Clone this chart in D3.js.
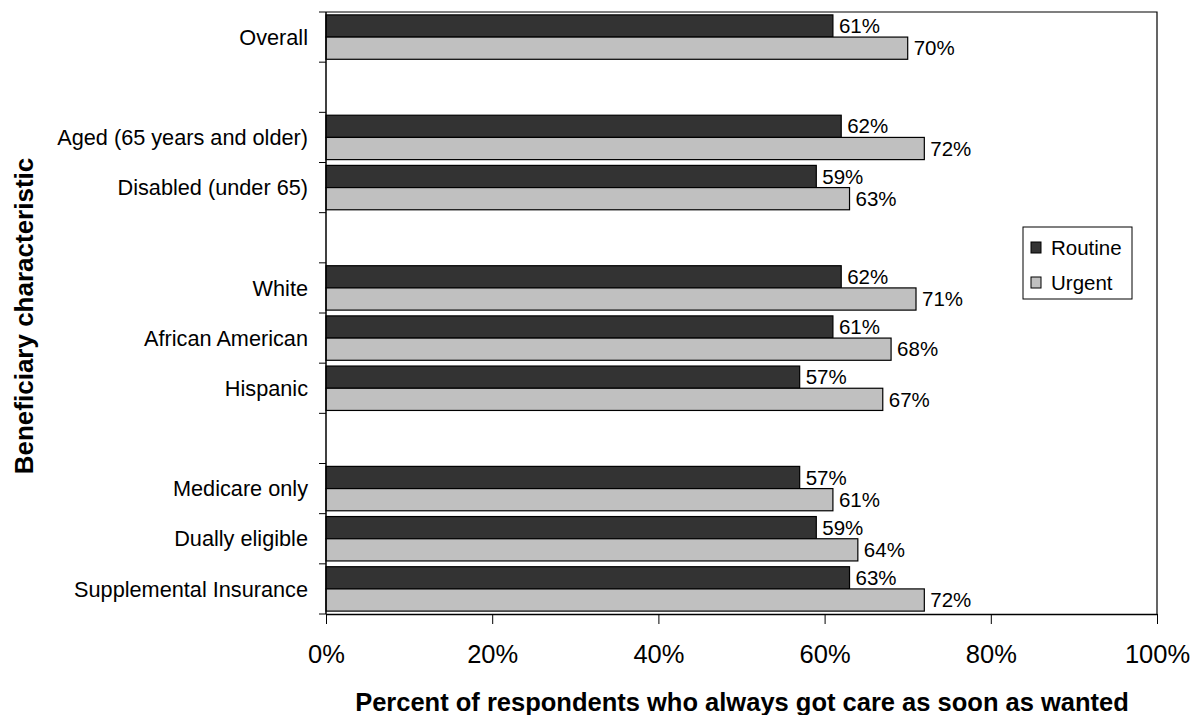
<!DOCTYPE html>
<html>
<head>
<meta charset="utf-8">
<script src="https://cdn.jsdelivr.net/npm/d3@7"></script>
<style>
  body { margin: 0; background: #fff; }
  svg { font-family: Arial, "Liberation Sans", sans-serif; }
</style>
</head>
<body>
<div id="chart"></div>
<script>
// Category slots, top to bottom ("" = spacer slot)
const categories = [
  "Overall", "",
  "Aged (65 years and older)", "Disabled (under 65)", "",
  "White", "African American", "Hispanic", "",
  "Medicare only", "Dually eligible", "Supplemental Insurance"
];
const routine = [61, null, 62, 59, null, 62, 61, 57, null, 57, 59, 63];
const urgent  = [70, null, 72, 63, null, 71, 68, 67, null, 61, 64, 72];
const seriesNames = ["Routine", "Urgent"];
const seriesColors = ["#333333", "#c0c0c0"];
const xTicks = [0, 20, 40, 60, 80, 100];

const width = 1195, height = 715;
const plot = { left: 326, right: 1157, top: 12, bottom: 614 };

const svg = d3.select("#chart").append("svg")
  .attr("width", width)
  .attr("height", height);

// Scales
const x = d3.scaleLinear().domain([0, 100]).range([plot.left, plot.right]);
const y = d3.scaleBand()
  .domain(categories.map((d, i) => i))
  .range([plot.top, plot.bottom])
  .paddingInner(0).paddingOuter(0);
const ySub = d3.scaleBand()
  .domain(seriesNames)
  .range([0, y.bandwidth()])
  .paddingOuter(0.13).paddingInner(0);

// Build rows from arrays
const rows = categories.map((c, i) => ({ i, cat: c, values: [routine[i], urgent[i]] }));

// Bars
const groups = svg.append("g").selectAll("g.row")
  .data(rows.filter(r => r.cat !== ""))
  .enter().append("g")
  .attr("class", "row")
  .attr("transform", d => `translate(0,${y(d.i)})`);

groups.selectAll("rect")
  .data(d => d.values.map((v, k) => ({ v, s: seriesNames[k], k })))
  .enter().append("rect")
  .attr("x", x(0))
  .attr("y", d => ySub(d.s))
  .attr("width", d => x(d.v) - x(0))
  .attr("height", ySub.bandwidth())
  .attr("fill", d => seriesColors[d.k])
  .attr("stroke", "#000")
  .attr("stroke-width", 1.2);

groups.selectAll("text")
  .data(d => d.values.map((v, k) => ({ v, s: seriesNames[k] })))
  .enter().append("text")
  .attr("x", d => x(d.v) + 6)
  .attr("y", d => ySub(d.s) + ySub.bandwidth() / 2)
  .attr("dy", "0.35em")
  .attr("font-size", 20.5)
  .text(d => d.v + "%");

// Plot frame (top and right)
svg.append("path")
  .attr("d", `M${plot.left},${plot.top}H${plot.right}V${plot.bottom}`)
  .attr("fill", "none")
  .attr("stroke", "#000")
  .attr("stroke-width", 1.2);

// Y axis: ticks at slot boundaries, labels centred in slots
const yAxis = svg.append("g");
yAxis.append("line")
  .attr("x1", plot.left).attr("x2", plot.left)
  .attr("y1", plot.top).attr("y2", plot.bottom)
  .attr("stroke", "#000").attr("stroke-width", 1.5);
yAxis.selectAll("line.tick")
  .data(d3.range(categories.length + 1))
  .enter().append("line")
  .attr("class", "tick")
  .attr("x1", plot.left - 7).attr("x2", plot.left)
  .attr("y1", i => i < categories.length ? y(i) : plot.bottom)
  .attr("y2", i => i < categories.length ? y(i) : plot.bottom)
  .attr("stroke", "#000");
yAxis.selectAll("text")
  .data(rows.filter(r => r.cat !== ""))
  .enter().append("text")
  .attr("x", 308)
  .attr("y", d => y(d.i) + y.bandwidth() / 2)
  .attr("dy", "0.35em")
  .attr("text-anchor", "end")
  .attr("font-size", 21.7)
  .text(d => d.cat);

// X axis
const xAxis = svg.append("g")
  .attr("transform", `translate(0,${plot.bottom})`)
  .call(d3.axisBottom(x).tickValues(xTicks).tickFormat(d => d + "%").tickSize(10).tickSizeOuter(0));
xAxis.select(".domain").attr("stroke-width", 1.5);
xAxis.selectAll("text")
  .attr("font-size", 25.5)
  .attr("font-family", "Arial, 'Liberation Sans', sans-serif")
  .attr("fill", "#000")
  .attr("dy", "1.42em");

// Axis titles
svg.append("text")
  .attr("x", 742).attr("y", 711)
  .attr("text-anchor", "middle")
  .attr("font-size", 25.5)
  .attr("font-weight", "bold")
  .text("Percent of respondents who always got care as soon as wanted");

svg.append("text")
  .attr("transform", "translate(33,316) rotate(-90)")
  .attr("text-anchor", "middle")
  .attr("font-size", 26)
  .attr("font-weight", "bold")
  .text("Beneficiary characteristic");

// Legend
const legend = svg.append("g").attr("transform", "translate(1023,227)");
legend.append("rect")
  .attr("width", 109).attr("height", 72)
  .attr("fill", "#fff").attr("stroke", "#000");
const item = legend.selectAll("g.item")
  .data(seriesNames)
  .enter().append("g")
  .attr("class", "item")
  .attr("transform", (d, i) => `translate(8,${15 + i * 35})`);
item.append("rect")
  .attr("width", 10).attr("height", 11)
  .attr("fill", (d, i) => seriesColors[i])
  .attr("stroke", "#000");
item.append("text")
  .attr("x", 20).attr("y", 5.5)
  .attr("dy", "0.35em")
  .attr("font-size", 20.5)
  .text(d => d);
</script>
</body>
</html>
